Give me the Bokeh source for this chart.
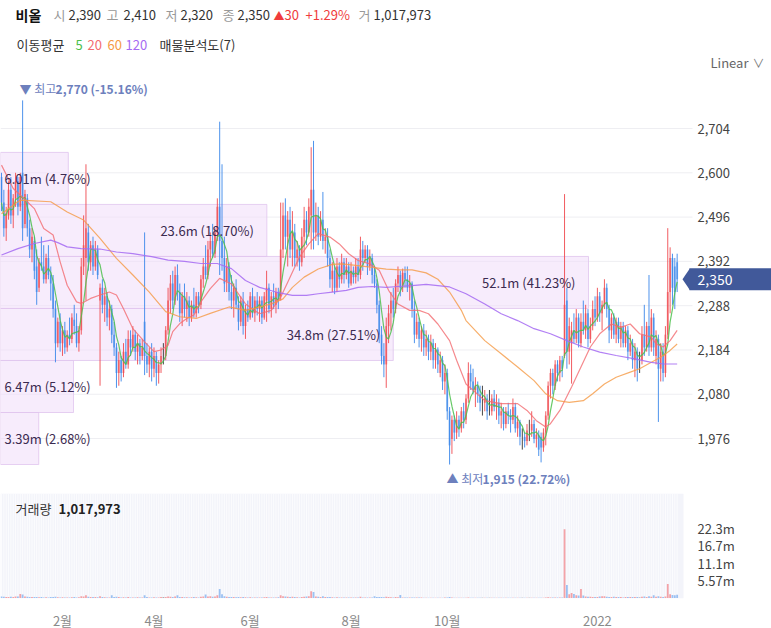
import numpy as np
import pandas as pd
from bokeh.plotting import figure
from bokeh.layouts import column
from bokeh.models import Range1d, FixedTicker
from bokeh.core.properties import value
from bokeh.embed import file_html
from bokeh.resources import INLINE

FONT = "Noto Sans CJK KR"

# ---------------- data (daily candles, index 0 = late Dec 2020) ----------------
stock_name = "비올"
opens = [
    2590, 2530, 2470, 2500, 2560, 2500, 2540, 2580, 2520, 2600,
    2480, 2540, 2470, 2420, 2440, 2380, 2330, 2390, 2380, 2350,
    2400, 2360, 2340, 2280, 2200, 2250, 2200, 2230, 2190, 2220,
    2210, 2255, 2240, 2200, 2230, 2380, 2400, 2460, 2390, 2430,
    2380, 2420, 2300, 2330, 2290, 2310, 2260, 2280, 2220, 2190,
    2130, 2160, 2130, 2180, 2150, 2210, 2190, 2220, 2180, 2200,
    2170, 2250, 2170, 2150, 2180, 2140, 2170, 2130, 2150, 2170,
    2170, 2230, 2300, 2340, 2300, 2360, 2320, 2270, 2310, 2280,
    2300, 2260, 2290, 2270, 2310, 2290, 2350, 2380, 2360, 2420,
    2440, 2410, 2460, 2520, 2440, 2400, 2345, 2380, 2320, 2300,
    2330, 2290, 2250, 2300, 2240, 2280, 2260, 2310, 2270, 2300,
    2280, 2300, 2260, 2300, 2330, 2280, 2310, 2290, 2320, 2310,
    2420, 2500, 2450, 2490, 2420, 2460, 2400, 2420, 2390, 2450,
    2490, 2460, 2500, 2560, 2460, 2500, 2450, 2490, 2440, 2450,
    2400, 2350, 2370, 2330, 2380, 2350, 2390, 2360, 2380, 2340,
    2370, 2355, 2380, 2360, 2420, 2400, 2420, 2380, 2400, 2360,
    2340, 2290, 2220, 2170, 2150, 2240, 2270, 2300, 2280, 2340,
    2360, 2330, 2365, 2350, 2330, 2340, 2280, 2220, 2250, 2210,
    2230, 2190, 2210, 2180, 2200, 2160, 2185, 2130, 2160, 2110,
    2130, 2040, 1975, 2020, 1990, 2020, 2000, 2040, 2020, 2070,
    2130, 2110, 2090, 2100, 2080, 2060, 2060, 2070, 2040, 2040,
    2070, 2050, 2060, 2030, 2040, 2010, 2040, 2030, 2020, 2050,
    2000, 2015, 1980, 1980, 1970, 1995, 1995, 2010, 1975, 1985,
    1980, 1955, 1990, 2030, 2100, 2130, 2100, 2150, 2130, 2160,
    2170, 2300, 2180, 2200, 2230, 2210, 2260, 2200, 2250, 2230,
    2270, 2210, 2240, 2280, 2260, 2310, 2270, 2290, 2330, 2280,
    2230, 2260, 2220, 2250, 2210, 2240, 2200, 2230, 2180, 2200,
    2160, 2180, 2160, 2160, 2220, 2190, 2240, 2190, 2260, 2170,
    2210, 2140, 2180, 2130, 2220, 2320, 2400, 2380, 2390,
]
highs = [
    2600, 2560, 2520, 2580, 2590, 2550, 2600, 2590, 2600, 2770,
    2560, 2550, 2490, 2470, 2450, 2420, 2400, 2450, 2430, 2410,
    2430, 2380, 2360, 2300, 2260, 2270, 2240, 2250, 2230, 2260,
    2270, 2290, 2270, 2240, 2400, 2500, 2620, 2480, 2440, 2450,
    2440, 2430, 2340, 2350, 2330, 2320, 2300, 2290, 2250, 2200,
    2180, 2170, 2200, 2210, 2230, 2230, 2240, 2230, 2220, 2210,
    2210, 2460, 2200, 2190, 2200, 2190, 2180, 2160, 2190, 2200,
    2240, 2330, 2360, 2370, 2380, 2385, 2340, 2320, 2340, 2320,
    2310, 2300, 2330, 2320, 2320, 2360, 2400, 2430, 2440, 2460,
    2480, 2470, 2540, 2720, 2620, 2450, 2400, 2390, 2360, 2340,
    2350, 2310, 2310, 2320, 2290, 2300, 2320, 2330, 2310, 2320,
    2310, 2310, 2320, 2370, 2340, 2320, 2340, 2330, 2330, 2530,
    2530, 2540, 2510, 2520, 2510, 2480, 2440, 2430, 2470, 2520,
    2510, 2540, 2660, 2675, 2530, 2520, 2510, 2555, 2470, 2470,
    2420, 2390, 2380, 2400, 2390, 2410, 2400, 2400, 2390, 2390,
    2380, 2400, 2400, 2450, 2440, 2430, 2430, 2420, 2410, 2380,
    2350, 2300, 2240, 2200, 2260, 2290, 2320, 2330, 2350, 2380,
    2370, 2375, 2380, 2380, 2360, 2345, 2300, 2270, 2260, 2240,
    2245, 2230, 2220, 2220, 2210, 2200, 2190, 2180, 2170, 2150,
    2140, 2050, 2030, 2030, 2040, 2030, 2050, 2060, 2080, 2155,
    2150, 2140, 2120, 2110, 2100, 2100, 2090, 2080, 2090, 2080,
    2090, 2080, 2070, 2060, 2050, 2050, 2060, 2045, 2070, 2060,
    2030, 2020, 2000, 1990, 2010, 2020, 2040, 2020, 2000, 1995,
    1990, 2000, 2040, 2110, 2140, 2140, 2160, 2160, 2170, 2170,
    2550, 2330, 2260, 2250, 2270, 2280, 2270, 2270, 2300, 2290,
    2280, 2260, 2300, 2310, 2330, 2320, 2300, 2350, 2340, 2290,
    2270, 2270, 2260, 2260, 2250, 2250, 2240, 2240, 2220, 2210,
    2200, 2190, 2180, 2240, 2290, 2250, 2360, 2280, 2270, 2230,
    2220, 2200, 2200, 2240, 2470, 2425, 2410, 2400, 2410,
]
lows = [
    2510, 2450, 2440, 2490, 2480, 2470, 2520, 2500, 2510, 2440,
    2470, 2450, 2400, 2390, 2350, 2290, 2320, 2370, 2340, 2340,
    2350, 2300, 2260, 2155, 2190, 2180, 2170, 2175, 2180, 2195,
    2200, 2220, 2190, 2180, 2220, 2360, 2300, 2370, 2370, 2360,
    2370, 2350, 2100, 2270, 2250, 2240, 2230, 2200, 2170, 2095,
    2100, 2110, 2120, 2140, 2140, 2170, 2180, 2160, 2150, 2150,
    2160, 2125, 2130, 2120, 2110, 2120, 2100, 2105, 2130, 2150,
    2160, 2220, 2270, 2280, 2290, 2300, 2250, 2240, 2260, 2250,
    2240, 2250, 2260, 2260, 2270, 2280, 2330, 2350, 2350, 2380,
    2400, 2400, 2440, 2360, 2370, 2320, 2320, 2300, 2280, 2260,
    2280, 2230, 2240, 2220, 2210, 2250, 2255, 2260, 2250, 2265,
    2250, 2245, 2255, 2250, 2270, 2260, 2280, 2270, 2280, 2300,
    2400, 2420, 2380, 2400, 2380, 2380, 2380, 2370, 2380, 2400,
    2430, 2450, 2420, 2420, 2440, 2430, 2440, 2420, 2410, 2380,
    2330, 2320, 2315, 2320, 2330, 2340, 2340, 2350, 2330, 2335,
    2340, 2340, 2345, 2350, 2370, 2390, 2360, 2370, 2340, 2330,
    2270, 2200, 2150, 2120, 2095, 2200, 2230, 2260, 2270, 2320,
    2310, 2320, 2330, 2320, 2300, 2260, 2200, 2210, 2190, 2180,
    2170, 2170, 2160, 2160, 2140, 2140, 2130, 2120, 2090, 2080,
    2020, 1915, 1940, 1970, 1975, 1980, 1990, 2000, 2010, 2060,
    2090, 2080, 2050, 2060, 2040, 2030, 2040, 2020, 2030, 2030,
    2040, 2020, 2010, 2000, 1995, 2000, 2010, 1990, 2010, 1990,
    1980, 1960, 1950, 1955, 1960, 1970, 1980, 1965, 1955, 1935,
    1920, 1945, 1960, 2020, 2070, 2080, 2090, 2110, 2110, 2120,
    2165, 2140, 2150, 2105, 2200, 2200, 2190, 2190, 2220, 2210,
    2190, 2200, 2230, 2240, 2250, 2250, 2230, 2280, 2260, 2200,
    2210, 2210, 2200, 2200, 2190, 2190, 2190, 2160, 2170, 2140,
    2120, 2110, 2130, 2150, 2170, 2180, 2170, 2180, 2170, 2150,
    2015, 2110, 2110, 2120, 2210, 2270, 2290, 2280, 2320,
]
closes = [
    2530, 2470, 2505, 2560, 2500, 2540, 2580, 2520, 2590, 2470,
    2550, 2470, 2420, 2450, 2370, 2320, 2390, 2380, 2350, 2400,
    2360, 2340, 2280, 2200, 2250, 2200, 2230, 2190, 2220, 2210,
    2260, 2240, 2200, 2230, 2380, 2430, 2470, 2390, 2430, 2380,
    2420, 2360, 2330, 2290, 2310, 2260, 2280, 2220, 2190, 2130,
    2160, 2130, 2180, 2150, 2210, 2190, 2220, 2180, 2200, 2170,
    2190, 2170, 2150, 2180, 2140, 2170, 2130, 2150, 2170, 2170,
    2230, 2300, 2340, 2300, 2360, 2320, 2270, 2310, 2280, 2300,
    2260, 2290, 2270, 2310, 2290, 2350, 2380, 2360, 2420, 2440,
    2410, 2460, 2520, 2440, 2400, 2340, 2380, 2320, 2300, 2330,
    2290, 2250, 2300, 2240, 2280, 2260, 2310, 2270, 2300, 2280,
    2300, 2260, 2310, 2330, 2280, 2310, 2290, 2320, 2300, 2420,
    2500, 2450, 2490, 2420, 2460, 2400, 2420, 2390, 2450, 2490,
    2460, 2520, 2560, 2460, 2500, 2450, 2490, 2440, 2450, 2400,
    2350, 2370, 2330, 2380, 2350, 2390, 2360, 2380, 2340, 2370,
    2355, 2380, 2360, 2420, 2400, 2420, 2380, 2400, 2360, 2340,
    2290, 2220, 2170, 2150, 2240, 2270, 2300, 2280, 2340, 2360,
    2330, 2365, 2350, 2330, 2340, 2280, 2220, 2250, 2210, 2230,
    2190, 2210, 2180, 2200, 2160, 2185, 2150, 2160, 2110, 2130,
    2040, 1960, 2020, 1990, 2020, 2000, 2040, 2020, 2070, 2130,
    2110, 2090, 2100, 2080, 2060, 2060, 2070, 2040, 2040, 2070,
    2050, 2060, 2030, 2040, 2010, 2040, 2030, 2020, 2050, 2000,
    2015, 1980, 1980, 1970, 1995, 1995, 2010, 1975, 1985, 1950,
    1955, 1990, 2030, 2100, 2130, 2100, 2150, 2130, 2160, 2140,
    2290, 2180, 2240, 2230, 2210, 2260, 2200, 2250, 2230, 2270,
    2210, 2240, 2280, 2260, 2310, 2270, 2290, 2330, 2280, 2230,
    2260, 2220, 2250, 2210, 2240, 2200, 2230, 2180, 2200, 2160,
    2180, 2140, 2160, 2220, 2190, 2240, 2190, 2260, 2190, 2210,
    2140, 2180, 2130, 2220, 2320, 2400, 2330, 2320, 2350,
]
volumes_m = [
    0.5, 0.4, 0.3, 0.35, 0.4, 0.3, 0.45, 0.5, 1.3, 1.1,
    0.5, 0.4, 0.3, 0.3, 0.35, 0.3, 0.25, 0.3, 0.2, 0.25,
    0.2, 0.3, 0.3, 0.4, 0.25, 0.2, 0.25, 0.2, 0.2, 0.2,
    0.25, 0.3, 0.2, 0.25, 0.6, 0.5, 0.9, 0.4, 0.3, 0.3,
    0.3, 0.25, 0.6, 0.3, 0.25, 0.2, 0.2, 0.9, 0.3, 0.4,
    0.3, 0.2, 0.25, 0.2, 0.3, 0.2, 0.2, 0.2, 0.25, 0.2,
    0.2, 0.9, 0.3, 0.2, 0.2, 0.25, 0.2, 0.2, 0.3, 0.25,
    0.3, 0.5, 0.4, 0.3, 0.5, 0.9, 0.3, 0.3, 0.25, 0.25,
    0.2, 0.25, 0.3, 0.25, 0.2, 0.4, 0.5, 1.1, 0.5, 0.6,
    0.4, 0.5, 0.9, 2.9, 1.2, 0.6, 0.4, 0.35, 0.3, 0.3,
    0.25, 0.3, 0.25, 0.3, 0.25, 0.2, 0.25, 0.2, 0.2, 0.2,
    0.2, 0.2, 0.25, 0.3, 0.2, 0.2, 0.2, 0.2, 0.25, 0.9,
    0.6, 0.5, 0.4, 0.3, 0.4, 0.3, 0.25, 0.2, 0.3, 0.4,
    0.5, 0.6, 2.2, 1.9, 0.5, 0.4, 0.3, 0.6, 0.3, 0.3,
    0.3, 0.25, 0.2, 0.25, 0.2, 0.2, 0.2, 0.2, 0.15, 0.2,
    0.15, 0.2, 0.15, 0.4, 0.2, 0.2, 0.2, 0.15, 0.2, 0.6,
    0.3, 0.3, 0.3, 0.25, 0.4, 0.3, 0.25, 0.2, 0.3, 0.25,
    1.0, 0.2, 0.2, 0.2, 0.15, 0.2, 0.2, 0.15, 0.15, 0.15,
    0.1, 0.1, 0.1, 0.1, 0.12, 0.1, 0.1, 0.1, 0.1, 0.15,
    0.2, 0.3, 0.15, 0.1, 0.1, 0.1, 0.1, 0.1, 0.1, 0.2,
    0.1, 0.1, 0.08, 0.08, 0.08, 0.06, 0.06, 0.08, 0.06, 0.06,
    0.06, 0.06, 0.06, 0.06, 0.06, 0.06, 0.06, 0.06, 0.06, 0.06,
    0.06, 0.06, 0.06, 0.06, 0.06, 0.06, 0.08, 0.06, 0.06, 0.08,
    0.1, 0.1, 0.15, 0.25, 0.2, 0.15, 0.2, 0.15, 0.15, 0.2,
    22.0, 4.2, 1.2, 1.6, 1.3, 0.9, 0.8, 2.9, 0.8, 0.5,
    0.4, 0.4, 0.3, 0.3, 0.3, 0.5, 0.6, 0.6, 0.4, 0.3,
    0.3, 0.4, 0.3, 0.3, 0.3, 0.2, 0.3, 0.3, 0.3, 0.3,
    0.3, 0.3, 0.2, 0.4, 0.5, 0.3, 0.6, 0.4, 0.9, 0.4,
    0.6, 0.4, 0.3, 0.5, 4.5, 1.2, 1.0, 0.9, 1.017973,
]

# moving averages 20 / 60 / 120 (index, price)
ma20_idx = [0, 5, 11, 14, 18, 22, 25, 28, 32, 34, 38, 42, 46, 49, 52, 56, 61, 65, 68, 71,
            73, 76, 79, 82, 85, 89, 93, 98, 104, 110, 115, 119, 123, 127, 131, 135, 140, 144,
            148, 152, 157, 161, 165, 169, 174, 178, 182, 186, 191, 194, 198, 206, 213, 220,
            224, 228, 232, 234, 238, 243, 247, 251, 255, 260, 264, 268, 272, 277, 279, 282, 285, 288]
ma20_val = [2618, 2563, 2532, 2516, 2469, 2454, 2391, 2336, 2297, 2293, 2305, 2313, 2320, 2313, 2281, 2234, 2203, 2180, 2184, 2195,
            2227, 2246, 2258, 2266, 2297, 2328, 2352, 2339, 2292, 2269, 2277, 2308, 2355, 2402, 2433, 2457, 2449, 2433,
            2410, 2394, 2386, 2371, 2324, 2292, 2277, 2277, 2269, 2245, 2206, 2160, 2104, 2065, 2058, 2058,
            2042, 2018, 2003, 2011, 2042, 2097, 2144, 2191, 2222, 2245, 2237, 2245, 2222, 2214, 2198, 2191, 2206, 2230]
ma60_idx = [0, 8, 21, 28, 35, 42, 49, 56, 63, 70, 76, 83, 89, 97, 104, 110, 115, 120, 124, 129,
            135, 141, 145, 152, 158, 164, 170, 175, 181, 186, 191, 196, 198, 206, 213, 220, 227,
            232, 237, 242, 248, 252, 257, 262, 268, 272, 277, 281, 285, 288]
ma60_val = [2504, 2536, 2532, 2508, 2489, 2446, 2399, 2360, 2320, 2274, 2262, 2258, 2270, 2285, 2277, 2285, 2292, 2304, 2331, 2355,
            2374, 2385, 2386, 2382, 2378, 2374, 2372, 2372, 2365, 2350, 2320, 2277, 2253, 2206, 2175, 2144, 2112,
            2081, 2065, 2061, 2065, 2081, 2104, 2120, 2132, 2140, 2155, 2167, 2183, 2198]
ma120_idx = [0, 7, 14, 21, 24, 28, 34, 42, 49, 56, 64, 71, 78, 85, 92, 98, 104, 110, 117, 124,
             130, 135, 141, 147, 152, 158, 164, 169, 175, 181, 186, 191, 198, 206, 213, 220, 227,
             234, 241, 248, 255, 262, 270, 277, 282, 288]
ma120_val = [2407, 2422, 2434, 2442, 2436, 2426, 2422, 2421, 2414, 2410, 2403, 2395, 2392, 2387, 2387, 2375, 2347, 2331, 2320, 2312,
             2312, 2316, 2320, 2324, 2331, 2333, 2331, 2333, 2335, 2338, 2335, 2332, 2316, 2292, 2269, 2253, 2234,
             2222, 2206, 2191, 2179, 2171, 2163, 2155, 2151, 2151]

# volume profile (매물분석도, 7 bins from lowest low to highest high), bottom to top
profile_vol_m = [3.39, 6.47, 34.8, 52.1, 23.6, 6.01, 0.0]
profile_pct = [2.68, 5.12, 27.51, 41.23, 18.70, 4.76, 0.0]

month_ticks = [26, 65, 106, 149, 190, 254]
month_labels = ["2월", "4월", "6월", "8월", "10월", "2022"]
price_ticks = [1976, 2080, 2184, 2288, 2392, 2496, 2600, 2704]
vol_ticks = [5.57, 11.1, 16.7, 22.3]
vol_tick_labels = ["5.57m", "11.1m", "16.7m", "22.3m"]
ma_periods = [5, 20, 60, 120]

# ---------------- layout helpers (reference-pixel geometry) ----------------
W = 771

def ix(px):          # x pixel -> candle index units
    return (px - 1) / 2.346

def py(y):           # y pixel (price pane) -> price
    return 2704 - (y - 128) * 2.348

def vy(y):           # y pixel (volume pane) -> volume (millions)
    return (597.5 - y) / 17.4 * 5.57

RED, BLUE, DARK = "#ef4a50", "#3b87ea", "#333333"
MA_COLORS = ["#4cbf4c", "#f26b70", "#f59a45", "#a56af2"]
TXT = "#333333"
TAG = "#41599a"
MARK = "#6d80bd"

o = np.array(opens, float); h = np.array(highs, float)
l = np.array(lows, float); c = np.array(closes, float)
vol = np.array(volumes_m, float)
N = len(c)
idx = np.arange(N)
col = np.where(c > o, RED, np.where(c < o, BLUE, DARK))
ma5 = pd.Series(c).rolling(5, min_periods=1).mean().values

x_range = Range1d(ix(0), ix(W))

def base_fig(fh, yr, **kw):
    f = figure(frame_width=W, frame_height=fh, x_range=x_range, y_range=yr,
               output_backend="svg", toolbar_location=None, x_axis_location=None, y_axis_location=None,
               min_border_left=0, min_border_right=0, outline_line_color=None, **kw)
    f.grid.visible = False
    return f

# ---------------- header ----------------
hd = figure(frame_width=W, frame_height=72, x_range=Range1d(0, W), y_range=Range1d(72, 0),
            output_backend="svg", toolbar_location=None, min_border=0,
            x_axis_location=None, y_axis_location=None, outline_line_color=None)
hd.grid.visible = False

last_o, last_h, last_l, last_c = opens[-1], highs[-1], lows[-1], closes[-1]
prev_c = closes[-2]
chg = last_c - prev_c
chg_pct = chg / prev_c * 100
last_vol = int(round(volumes_m[-1] * 1e6))

def htext(x, y, t, color=TXT, size="13px", style="normal"):
    hd.text(x=[x], y=[y], text=[t], text_color=color, text_font=value(FONT), text_font_size=size,
            text_font_style=style, text_baseline="middle", text_align="left")

htext(15, 14, stock_name, "#111111", "14px", "bold")
seg = [(53, "시", "#999999"), (68, f"{last_o:,}", TXT), (106, "고", "#999999"), (123, f"{last_h:,}", TXT),
       (165, "저", "#999999"), (180, f"{last_l:,}", TXT), (222, "종", "#999999"), (237, f"{last_c:,}", TXT)]
for x, t, cc in seg:
    htext(x, 14, t, cc)
htext(273, 14, "▲" if chg > 0 else "▼", "#f03c3c", "11px")
htext(284, 14, f"{abs(chg)}", "#f03c3c")
htext(305, 14, f"{chg_pct:+.2f}%", "#f03c3c")
htext(358, 14, "거", "#999999")
htext(373, 14, f"{last_vol:,}", TXT)

htext(16, 44, "이동평균", TXT)
for x, t, cc in zip([75, 87, 107, 125], ma_periods, MA_COLORS):
    htext(x, 44, str(t), cc)
htext(159, 44, "매물분석도(7)", TXT)
htext(710, 62, "Linear", "#666666")
htext(752, 62, "∨", "#777777", "12px")

# ---------------- price panel ----------------
p = base_fig(418, Range1d(py(490), py(72)), min_border_top=0, min_border_bottom=0)
nt = len(price_ticks)
p.segment(x0=[ix(0)] * nt, x1=[ix(692)] * nt, y0=price_ticks, y1=price_ticks,
          line_color="#eeeef2", line_width=1)
p.text(x=[ix(697)] * nt, y=price_ticks, text=[f"{t:,}" for t in price_ticks], text_baseline="middle",
       text_align="left", text_font=value(FONT), text_font_size="13px", text_color="#444444")

# volume profile boxes
lo, hi = float(l.min()), float(h.max())
edges = np.linspace(lo, hi, len(profile_vol_m) + 1)
vmax = max(profile_vol_m)
x0 = ix(0)
rights, bots, tops, labs = [], [], [], []
for k, (vm, pc) in enumerate(zip(profile_vol_m, profile_pct)):
    if vm <= 0:
        continue
    r_px = vm / vmax * 588
    rights.append(ix(r_px)); bots.append(edges[k]); tops.append(edges[k + 1])
    labs.append((r_px, (edges[k] + edges[k + 1]) / 2, f"{vm:g}m ({pc:.2f}%)"))
p.quad(left=[x0] * len(rights), right=rights, bottom=bots, top=tops,
       fill_color="#f1dcf9", fill_alpha=0.55, line_color="#e0c4ee", line_alpha=0.8, line_width=1)

# candles
p.segment(x0=idx, y0=l, x1=idx, y1=h, line_color=col, line_width=1, line_alpha=0.9)
p.vbar(x=idx, width=0.8, top=np.maximum(o, c), bottom=np.minimum(o, c),
       fill_color=col, fill_alpha=0.65, line_color=None)

# moving averages
p.line(idx, ma5, line_color=MA_COLORS[0], line_width=1.2, line_alpha=0.85)
p.line(ma20_idx, ma20_val, line_color=MA_COLORS[1], line_width=1.2, line_alpha=0.8)
p.line(ma60_idx, ma60_val, line_color=MA_COLORS[2], line_width=1.2, line_alpha=0.8)
p.line(ma120_idx, ma120_val, line_color=MA_COLORS[3], line_width=1.2, line_alpha=0.85)

# profile labels
for r_px, yc, t in labs:
    right_ok = r_px - 13 - 95 >= 4
    p.text(x=[ix(r_px - 13) if right_ok else ix(4)], y=[yc], text=[t],
           text_align="right" if right_ok else "left", text_baseline="middle",
           text_font=value(FONT), text_font_size="13px", text_color="#3b2a50")

# highest / lowest markers
i_hi = int(np.argmax(h)); i_lo = int(np.argmin(l))
p.text(x=[i_hi], y=[hi], text=["▼ 최고"], x_offset=-3, y_offset=-3, text_align="left",
       text_baseline="bottom", text_font=value(FONT), text_font_size="12px", text_color=MARK)
p.text(x=[i_hi], y=[hi], text=[f"{int(hi):,} ({(last_c - hi) / hi * 100:.2f}%)"], x_offset=33, y_offset=-3,
       text_align="left", text_baseline="bottom", text_font=value(FONT), text_font_size="12px",
       text_font_style="bold", text_color=MARK)
p.text(x=[i_lo], y=[lo], text=["▲ 최저"], x_offset=-3, y_offset=5, text_align="left",
       text_baseline="top", text_font=value(FONT), text_font_size="12px", text_color=MARK)
p.text(x=[i_lo], y=[lo], text=[f"{int(lo):,} ({(last_c - lo) / lo * 100:.2f}%)"], x_offset=33, y_offset=5,
       text_align="left", text_baseline="top", text_font=value(FONT), text_font_size="12px",
       text_font_style="bold", text_color=MARK)

# current price tag at the price scale
half = 11 * 2.348
p.quad(left=[ix(689)], right=[ix(W)], bottom=[last_c - half], top=[last_c + half],
       fill_color=TAG, line_color=None)
p.patch(x=[ix(682), ix(689.5), ix(689.5)], y=[last_c, last_c + half, last_c - half],
        fill_color=TAG, line_color=None)
p.text(x=[ix(697)], y=[last_c], text=[f"{last_c:,}"], text_baseline="middle", text_align="left",
       text_font=value(FONT), text_font_size="14px", text_color="white")

# ---------------- volume panel ----------------
v = figure(frame_width=W, frame_height=105, x_range=x_range, y_range=Range1d(vy(598), vy(493)),
           output_backend="svg", toolbar_location=None, y_axis_location=None,
           min_border_left=0, min_border_right=0, min_border_top=3, min_border_bottom=28,
           outline_line_color=None)
v.grid.visible = False
v.xaxis.ticker = FixedTicker(ticks=month_ticks)
v.xaxis.major_label_overrides = dict(zip(month_ticks, month_labels))
v.xaxis.axis_line_color = None
v.xaxis.major_tick_line_color = None
v.xaxis.minor_tick_line_color = None
v.xaxis.major_label_text_font = FONT
v.xaxis.major_label_text_font_size = "13px"
v.xaxis.major_label_text_color = "#8a8a8a"
v.xaxis.major_label_standoff = 6

v.quad(left=[ix(0)], right=[ix(683)], bottom=[vy(598)], top=[vy(493)],
       fill_color="#f3f4fa", line_color=None)
v.segment(x0=idx, x1=idx, y0=[vy(598)] * N, y1=[vy(493)] * N, line_color="white", line_alpha=0.7, line_width=1)
v.vbar(x=idx, width=0.75, top=vol, bottom=0, fill_color=col, fill_alpha=0.5, line_color=None)
nv = len(vol_ticks)
v.text(x=[ix(697)] * nv, y=vol_ticks, text=vol_tick_labels, text_baseline="middle", text_align="left",
       text_font=value(FONT), text_font_size="13px", text_color="#444444")
v.text(x=[ix(15)], y=[vy(508)], text=["거래량"], text_baseline="middle", text_font=value(FONT),
       text_font_size="13px", text_color=TXT)
v.text(x=[ix(58)], y=[vy(508)], text=[f"{last_vol:,}"], text_baseline="middle", text_font=value(FONT),
       text_font_size="13px", text_font_style="bold", text_color="#222222")

layout = column(hd, p, v, spacing=0)
open("out.html", "w").write(file_html(layout, INLINE))
